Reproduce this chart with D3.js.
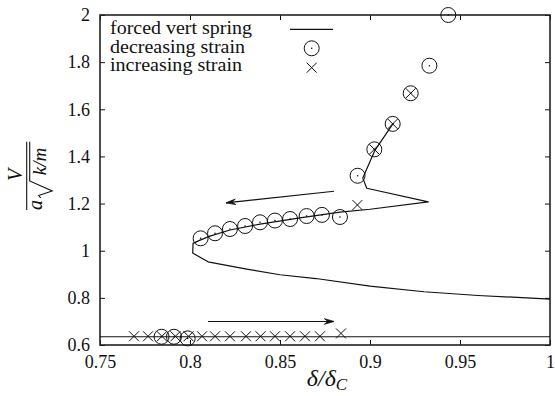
<!DOCTYPE html>
<html>
<head>
<meta charset="utf-8">
<script src="https://cdn.jsdelivr.net/npm/d3@7"></script>
<style>
  html, body { margin: 0; padding: 0; background: #fff; }
  svg { display: block; }
  svg text { font-family: "Liberation Serif", "Times New Roman", serif !important; fill: #111; }
</style>
</head>
<body>
<svg id="chart" width="555" height="396"></svg>
<script>
// ---------------- data ----------------
const xTicks = [0.75, 0.8, 0.85, 0.9, 0.95, 1];
const xTickLabels = ["0.75", "0.8", "0.85", "0.9", "0.95", "1"];
const yTicks = [0.6, 0.8, 1, 1.2, 1.4, 1.6, 1.8, 2];
const yTickLabels = ["0.6", "0.8", "1", "1.2", "1.4", "1.6", "1.8", "2"];

// forced vert spring (solid curve)
const springDelta = [0.913, 0.9028, 0.896, 0.8982, 0.9324, 0.9, 0.8833, 0.8611, 0.8389, 0.8222, 0.8111, 0.8056, 0.8017, 0.8015, 0.81, 0.8315, 0.85, 0.87, 0.9, 0.93, 0.96, 1.0];
const springV     = [1.541, 1.427, 1.308, 1.265, 1.207, 1.176, 1.164, 1.139, 1.113, 1.088, 1.062, 1.045, 1.031, 0.99, 0.953, 0.922, 0.898, 0.882, 0.85, 0.826, 0.81, 0.795];
// lower flat branch of the forced vert spring curve
const baseDelta = [0.75, 1.0];
const baseV     = [0.635, 0.635];

// decreasing strain (circles)
const decDelta = [0.9435, 0.933, 0.9226, 0.9126, 0.9024, 0.8931, 0.8833, 0.8733, 0.8648, 0.8556, 0.8472, 0.8389, 0.8306, 0.8222, 0.8139, 0.8059, 0.7987, 0.7911, 0.7842];
const decV     = [2.0, 1.785, 1.668, 1.538, 1.430, 1.318, 1.143, 1.152, 1.147, 1.1345, 1.128, 1.1205, 1.1048, 1.0921, 1.0739, 1.0526, 0.628, 0.635, 0.635];

// increasing strain (crosses)
const incDelta = [0.7689, 0.7767, 0.7844, 0.7919, 0.7992, 0.8067, 0.8139, 0.8222, 0.8311, 0.8392, 0.8472, 0.8556, 0.8639, 0.8722, 0.8839, 0.893, 0.9024, 0.9126, 0.9226];
const incV     = [0.637, 0.637, 0.637, 0.637, 0.637, 0.637, 0.637, 0.637, 0.637, 0.637, 0.637, 0.637, 0.637, 0.637, 0.649, 1.194, 1.430, 1.538, 1.668];

// arrows
const arrowX1 = [0.88, 0.81];
const arrowY1 = [1.252, 0.70];
const arrowX2 = [0.82, 0.88];
const arrowY2 = [1.203, 0.70];

const legendLabels = ["forced vert spring", "decreasing strain", "increasing strain"];

// ---------------- chart ----------------
const svg = d3.select("#chart");
const L = 100, R = 550, T = 15, B = 345;
const x = d3.scaleLinear().domain([0.75, 1]).range([L, R]);
const y = d3.scaleLinear().domain([0.6, 2]).range([B, T]);
const ink = "#111";

// ticks (inside, on all four sides)
const tickLen = 5;
const xAxisB = d3.axisBottom(x).tickValues(xTicks).tickSizeInner(-tickLen).tickSizeOuter(0).tickFormat((d, i) => xTickLabels[i]).tickPadding(10);
const xAxisT = d3.axisTop(x).tickValues(xTicks).tickSizeInner(-tickLen).tickSizeOuter(0).tickFormat("");
const yAxisL = d3.axisLeft(y).tickValues(yTicks).tickSizeInner(-tickLen).tickSizeOuter(0).tickFormat((d, i) => yTickLabels[i]).tickPadding(10);
const yAxisR = d3.axisRight(y).tickValues(yTicks).tickSizeInner(-tickLen).tickSizeOuter(0).tickFormat("");

function styleAxis(g) {
  g.attr("font-family", null).attr("font-size", null);
  g.select(".domain").remove();
  g.selectAll(".tick line").attr("stroke", ink).attr("stroke-width", 1);
  g.selectAll(".tick text").style("font-family", "'Liberation Serif', serif").style("font-size", "18px").attr("fill", ink);
}
svg.append("g").attr("transform", `translate(0,${B})`).call(xAxisB).call(styleAxis);
svg.append("g").attr("transform", `translate(0,${T})`).call(xAxisT).call(styleAxis);
svg.append("g").attr("transform", `translate(${L},0)`).call(yAxisL).call(styleAxis);
svg.append("g").attr("transform", `translate(${R},0)`).call(yAxisR).call(styleAxis);

// frame
svg.append("rect").attr("x", L).attr("y", T).attr("width", R - L).attr("height", B - T)
  .attr("fill", "none").attr("stroke", "#222").attr("stroke-width", 1.6);

// lines
const line = d3.line().x(d => x(d[0])).y(d => y(d[1]));
svg.append("path").datum(d3.zip(springDelta, springV)).attr("d", line)
  .attr("fill", "none").attr("stroke", ink).attr("stroke-width", 1.2).attr("stroke-linejoin", "round");
svg.append("path").datum(d3.zip(baseDelta, baseV)).attr("d", line)
  .attr("fill", "none").attr("stroke", ink).attr("stroke-width", 1.2);

// arrows
function arrow(x1, y1, x2, y2) {
  const g = svg.append("g").attr("stroke", ink).attr("stroke-width", 1.1).attr("fill", "none");
  g.append("line").attr("x1", x1).attr("y1", y1).attr("x2", x2).attr("y2", y2);
  const a = Math.atan2(y1 - y2, x1 - x2), len = 10, sp = 0.28;
  const p1 = [x2 + len * Math.cos(a + sp), y2 + len * Math.sin(a + sp)];
  const p2 = [x2 + len * Math.cos(a - sp), y2 + len * Math.sin(a - sp)];
  const pm = [x2 + 0.6 * len * Math.cos(a), y2 + 0.6 * len * Math.sin(a)];
  g.append("path").attr("d", `M${p1}L${x2},${y2}L${p2}L${pm}Z`).attr("fill", ink).attr("stroke-width", 0.8);
}
for (let i = 0; i < arrowX1.length; i++) {
  arrow(x(arrowX1[i]), y(arrowY1[i]), x(arrowX2[i]), y(arrowY2[i]));
}

// markers
const rC = 7.5, rX = 5;
function circleMark(g, cx, cy) {
  g.append("circle").attr("cx", cx).attr("cy", cy).attr("r", rC).attr("fill", "none").attr("stroke", ink).attr("stroke-width", 1);
  g.append("circle").attr("cx", cx).attr("cy", cy).attr("r", 0.8).attr("fill", ink);
}
function crossMark(g, cx, cy) {
  g.append("path").attr("d", `M${cx - rX},${cy - rX}L${cx + rX},${cy + rX}M${cx - rX},${cy + rX}L${cx + rX},${cy - rX}`)
    .attr("stroke", ink).attr("stroke-width", 1).attr("fill", "none");
}
const gm = svg.append("g");
d3.zip(decDelta, decV).forEach(d => circleMark(gm, x(d[0]), y(d[1])));
d3.zip(incDelta, incV).forEach(d => crossMark(gm, x(d[0]), y(d[1])));

// legend
const lg = svg.append("g");
const legBase = [34, 52.5, 71];
const legMid = [29.3, 48.3, 67.7];
const legWidth = [142, 135, 132];
legendLabels.forEach((t, i) => {
  lg.append("text").attr("x", 110).attr("y", legBase[i]).attr("font-size", 18)
    .attr("textLength", legWidth[i]).attr("lengthAdjust", "spacingAndGlyphs").text(t);
});
lg.append("line").attr("x1", 290).attr("x2", 333).attr("y1", legMid[0]).attr("y2", legMid[0]).attr("stroke", ink).attr("stroke-width", 1.2);
circleMark(lg, 311.7, legMid[1]);
crossMark(lg, 311.7, legMid[2]);

// x title: δ/δ_C
const xt = svg.append("text").attr("x", 327).attr("y", 386).attr("text-anchor", "middle")
  .attr("font-size", 24).attr("font-style", "italic");
xt.append("tspan").text("δ/δ");
xt.append("tspan").attr("font-size", 17).attr("dy", 4).text("C");

// y title: V / (a sqrt(k/m)), rotated
const yt = svg.append("g").attr("transform", "translate(26.7,176) rotate(-90)");
yt.append("line").attr("x1", -34).attr("x2", 34.3).attr("y1", 0).attr("y2", 0).attr("stroke", ink).attr("stroke-width", 1.1);
yt.append("text").attr("x", 1).attr("y", -4.5).attr("text-anchor", "middle").attr("font-size", 20).attr("font-style", "italic").text("V");
yt.append("text").attr("x", -29).attr("y", 15).attr("text-anchor", "middle").attr("font-size", 20).attr("font-style", "italic").text("a");
yt.append("path").attr("d", "M-22,14 L-19.5,12 L-15,25.5 L-5,3 L34.3,3").attr("fill", "none").attr("stroke", ink).attr("stroke-width", 1.1);
yt.append("text").attr("x", 14.5).attr("y", 19).attr("text-anchor", "middle").attr("font-size", 19).attr("font-style", "italic").text("k/m");
</script>
</body>
</html>
